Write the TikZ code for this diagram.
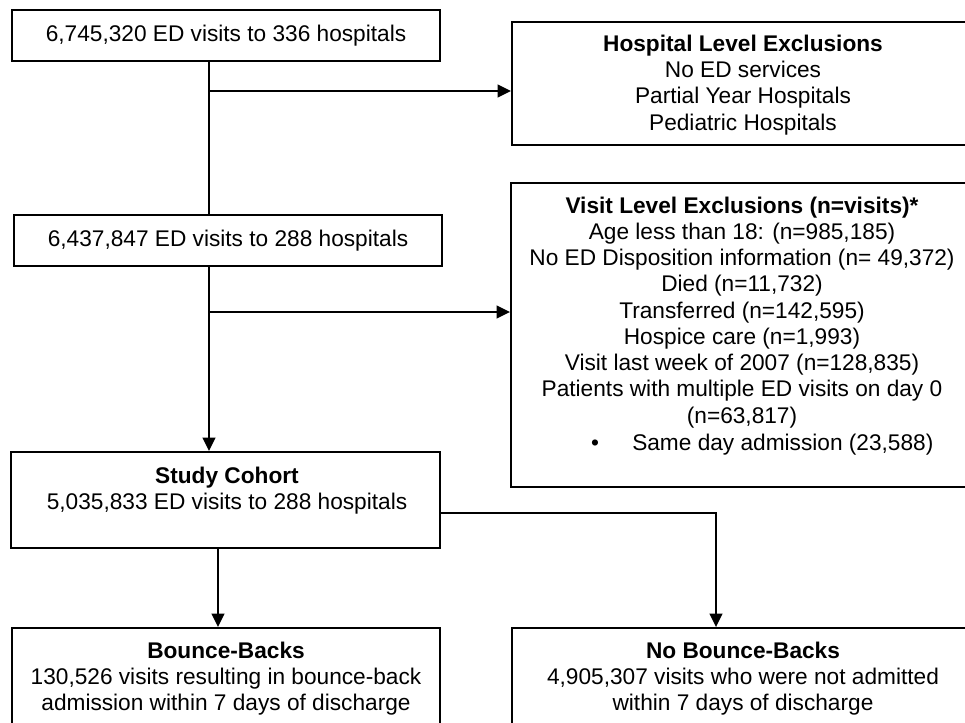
\documentclass[tikz,border=0pt]{standalone}
\usepackage{fontspec}
\setmainfont{Liberation Sans}
\usetikzlibrary{arrows.meta,fit}
\begin{document}
\begin{tikzpicture}[x=0.75pt,y=-0.75pt,
  box/.style={draw, line width=1.4pt, inner sep=0pt, rectangle},
  txt/.style={font=\fontsize{17}{19.7}\selectfont, align=center, inner sep=0pt},
  conn/.style={line width=1.4pt},
  arr/.style={conn, -{Triangle[length=10pt,width=9.5pt]}}]
\useasboundingbox (0,0) rectangle (965,722);
\clip (0,0) rectangle (965,722);
% boxes
\node[box, fit={(12,10) (440,61)}] (b1) {};
\node[box, fit={(512,22) (985,145)}] (hosp) {};
\node[box, fit={(14,215) (442,266)}] (b2) {};
\node[box, fit={(511,183) (985,487)}] (visit) {};
\node[box, fit={(11,452) (440,548)}] (coh) {};
\node[box, fit={(12,628) (440,740)}] (bb) {};
\node[box, fit={(512,628) (985,740)}] (nobb) {};
% helper coordinates
\coordinate (sp) at (209,0);
\coordinate (j1) at (209,91);
\coordinate (j2) at (209,312);
\coordinate (sl) at (218,0);
\coordinate (sr) at (716,513);
% connectors
\draw[conn] (b1.south -| sp) -- (b2.north -| sp);
\draw[arr] (j1) -- (j1 -| hosp.west);
\draw[arr] (b2.south -| sp) -- (coh.north -| sp);
\draw[arr] (j2) -- (j2 -| visit.west);
\draw[arr] (coh.south -| sl) -- (bb.north -| sl);
\draw[arr] (sr -| coh.east) -- (sr) -- (sr |- nobb.north);
% texts
\node[txt] (t1) at (226,35.3) {6,745,320 ED visits to 336 hospitals};
\node[txt] (t2) at (743,85) {\textbf{Hospital Level Exclusions}\\No ED services\\Partial Year Hospitals\\Pediatric Hospitals};
\node[txt] (t3) at (228,240.3) {6,437,847 ED visits to 288 hospitals};
\node[txt] (t4) at (742,312.3) {\textbf{Visit Level Exclusions (n=visits)*}\\Age less than 18: (n=985,185)\\No ED Disposition information (n= 49,372)\\Died (n=11,732)\\Transferred (n=142,595)\\Hospice care (n=1,993)\\Visit last week of 2007 (n=128,835)\\Patients with multiple ED visits on day 0\\(n=63,817)};
\node[txt, anchor=base] (t5) at (595,450) {\textbullet};
\node[txt, anchor=base west] (t6) at (632,450) {Same day admission (23,588)};
\node[txt] (t7) at (227,490.6) {\textbf{Study Cohort}\\5,035,833 ED visits to 288 hospitals};
\node[txt] (t8) at (226,678.8) {\textbf{Bounce-Backs}\\130,526 visits resulting in bounce-back\\admission within 7 days of discharge};
\node[txt] (t9) at (743,678.8) {\textbf{No Bounce-Backs}\\4,905,307 visits who were not admitted\\within 7 days of discharge};
\end{tikzpicture}
\end{document}
